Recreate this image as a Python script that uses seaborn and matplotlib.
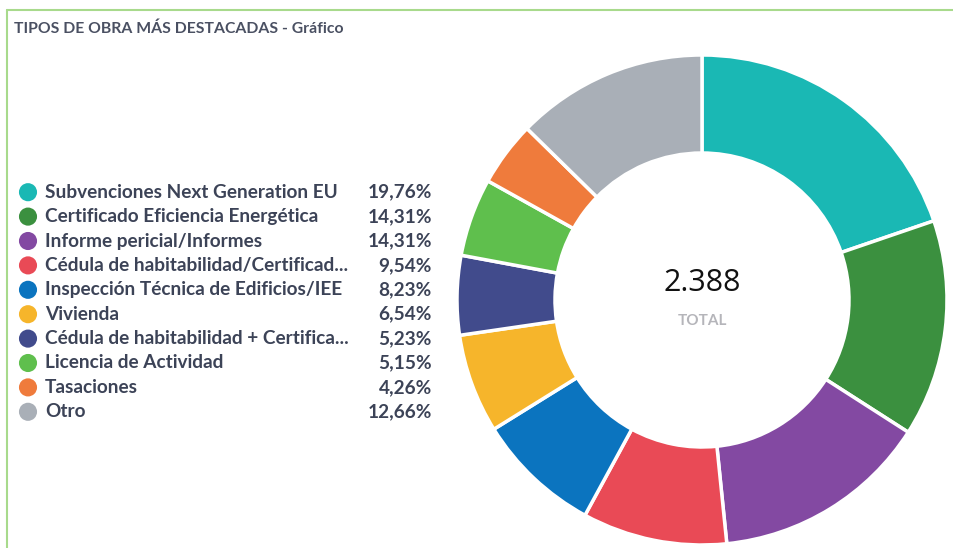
import matplotlib
matplotlib.use("Agg")
import matplotlib.pyplot as plt
import seaborn as sns
import pandas as pd
import numpy as np

# data
categorias = ['Subvenciones Next Generation EU', 'Certificado Eficiencia Energética',
              'Informe pericial/Informes', 'Cédula de habitabilidad/Certificad...',
              'Inspección Técnica de Edificios/IEE', 'Vivienda',
              'Cédula de habitabilidad + Certifica...', 'Licencia de Actividad',
              'Tasaciones', 'Otro']
porcentajes = [19.76, 14.31, 14.31, 9.54, 8.23, 6.54, 5.23, 5.15, 4.26, 12.66]
colores = ['#1ab8b4', '#3b903f', '#8349a2', '#e94a56', '#0b74bf',
           '#f6b52b', '#414b8c', '#5fbf4d', '#ef7b3c', '#a9afb7']
total = '2.388'

sns.set_theme(style='white')
plt.rcParams['font.family'] = ['Lato', 'DejaVu Sans']

df = pd.DataFrame({'tipo': categorias, 'pct': porcentajes, 'fila': range(len(categorias))})
txt_col = '#3c4357'

fig = plt.figure(figsize=(9.54, 5.48), dpi=100)

# border lines of the panel
fig.add_artist(plt.Line2D([7/954, 1], [1-10/548, 1-10/548], color='#a8da8c', lw=1.5))
fig.add_artist(plt.Line2D([7/954, 7/954], [0, 1-10/548], color='#a8da8c', lw=1.5))
fig.text(14/954, 1-29/548, 'TIPOS DE OBRA MÁS DESTACADAS - Gráfico', fontsize=11.3,
         fontweight='bold', color='#4a5062', va='center')

# donut
ax = fig.add_axes([457/954, 3/548, 490/954, 490/548])
ax.pie(df['pct'], colors=colores, startangle=90, counterclock=False, radius=1,
       wedgeprops=dict(width=0.4, edgecolor='white', linewidth=2.5))
ax.set_aspect('equal')
ax.set_xlim(-1.0, 1.0)
ax.set_ylim(-1.0, 1.0)
ax.text(0, 0.07, total, ha='center', va='center', fontsize=22, color='#111111',
        family=['Open Sans', 'DejaVu Sans'])
ax.text(0, -0.085, 'TOTAL', ha='center', va='center', fontsize=11, color='#b5b5ba',
        fontweight='bold')

# legend
axl = fig.add_axes([0, 1-424/548, 440/954, 244/548])
sns.scatterplot(data=df, x=np.full(len(df), 28), y='fila', hue='tipo', palette=colores,
                s=170, edgecolor='none', legend=False, ax=axl)
for _, r in df.iterrows():
    axl.text(45, r['fila'], r['tipo'], va='center', ha='left', fontsize=13.7,
             color=txt_col, fontweight='bold')
    axl.text(432, r['fila'], f"{r['pct']:.2f}%".replace('.', ','), va='center', ha='right',
             fontsize=13.7, color=txt_col, fontweight='bold')
axl.set_xlim(0, 440)
axl.set_ylim(len(df) - 0.5, -0.5)
axl.axis('off')

fig.savefig('out.png', dpi=100)
